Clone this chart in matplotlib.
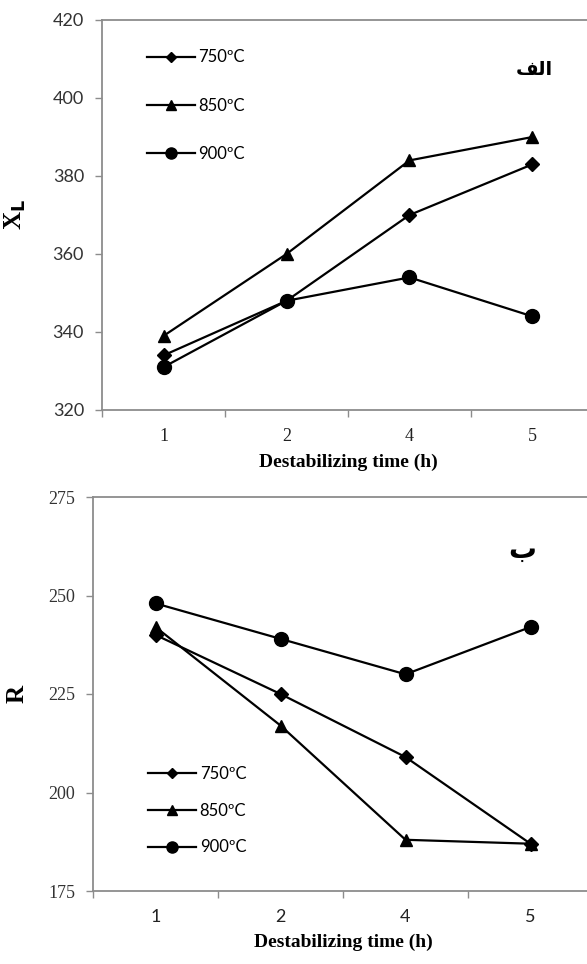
import matplotlib.pyplot as plt
import numpy as np

# data
times = ["1", "2", "4", "5"]
labels = ["750ºC", "850ºC", "900ºC"]
markers = ["D", "^", "o"]
msizes = [7, 9, 10]

xl_750 = [334, 348, 370, 383]
xl_850 = [339, 360, 384, 390]
xl_900 = [331, 348, 354, 344]

r_750 = [240, 225, 209, 187]
r_850 = [242, 217, 188, 187]
r_900 = [248, 239, 230, 242]

xl_ticks = [320, 340, 360, 380, 400, 420]
r_ticks = [175, 200, 225, 250, 275]

serif = "Liberation Serif"
sans = "Lato"
spine_col = "#8c8c8c"

fig = plt.figure(figsize=(5.87, 9.64), dpi=100)
ax1 = fig.add_axes([102 / 587, 1 - 410 / 964, 492 / 587, 390 / 964])
ax2 = fig.add_axes([93 / 587, 1 - 891 / 964, 500 / 587, 394 / 964])

x = np.arange(len(times))


def style(ax, yticks, ytick_font, xtick_font):
    for s in ["left", "bottom", "top", "right"]:
        ax.spines[s].set_color(spine_col)
        ax.spines[s].set_linewidth(1.3)
    ax.set_xlim(-0.5, len(times) - 0.5)
    ax.set_ylim(yticks[0], yticks[-1])
    ax.set_yticks(yticks)
    ax.set_yticklabels([str(v) for v in yticks], fontfamily=ytick_font,
                       fontsize=13, color="#333333")
    ax.set_xticks(x)
    ax.set_xticklabels(times, fontfamily=xtick_font, fontsize=13, color="#222222")
    ax.set_xticks(np.arange(len(times) + 1) - 0.5, minor=True)
    ax.tick_params(axis="x", which="major", length=0, pad=13)
    ax.tick_params(axis="x", which="minor", length=5, color=spine_col, width=1)
    ax.tick_params(axis="y", length=5, color=spine_col, width=1, pad=8)
    ax.set_xlabel("Destabilizing time (h)", fontfamily=serif, fontweight="bold",
                  fontsize=14, labelpad=6)


for series, lab, m, ms in zip([xl_750, xl_850, xl_900], labels, markers, msizes):
    ax1.plot(x, series, color="black", lw=1.6, marker=m, ms=ms, label=lab)
style(ax1, xl_ticks, sans, serif)
ax1.set_ylabel("X$_\\mathbf{L}$", fontfamily=serif, fontweight="bold",
               fontsize=18, labelpad=18)
ax1.legend(loc="upper left", bbox_to_anchor=(0.06, 0.963), frameon=False,
           prop={"family": sans, "size": 12}, labelspacing=1.93,
           handlelength=2.9, handletextpad=0.2, markerscale=0.8)
ax1.text(0.878, 0.872, "\uFED2\uFEDF\uFE8D", transform=ax1.transAxes,
         fontsize=14, fontweight="bold", family="DejaVu Sans",
         ha="center", va="center")

for series, lab, m, ms in zip([r_750, r_850, r_900], labels, markers, msizes):
    ax2.plot(x, series, color="black", lw=1.6, marker=m, ms=ms, label=lab)
style(ax2, r_ticks, serif, sans)
ax2.set_ylabel("R", fontfamily=serif, fontweight="bold", fontsize=18, labelpad=14)
ax2.legend(loc="upper left", bbox_to_anchor=(0.08, 0.355), frameon=False,
           prop={"family": sans, "size": 12}, labelspacing=1.24,
           handlelength=2.9, handletextpad=0.2, markerscale=0.8)
ax2.text(0.858, 0.865, "\uFE8F", transform=ax2.transAxes,
         fontsize=20, fontweight="bold", family="DejaVu Sans",
         ha="center", va="center")

fig.savefig("out.png", dpi=100)
